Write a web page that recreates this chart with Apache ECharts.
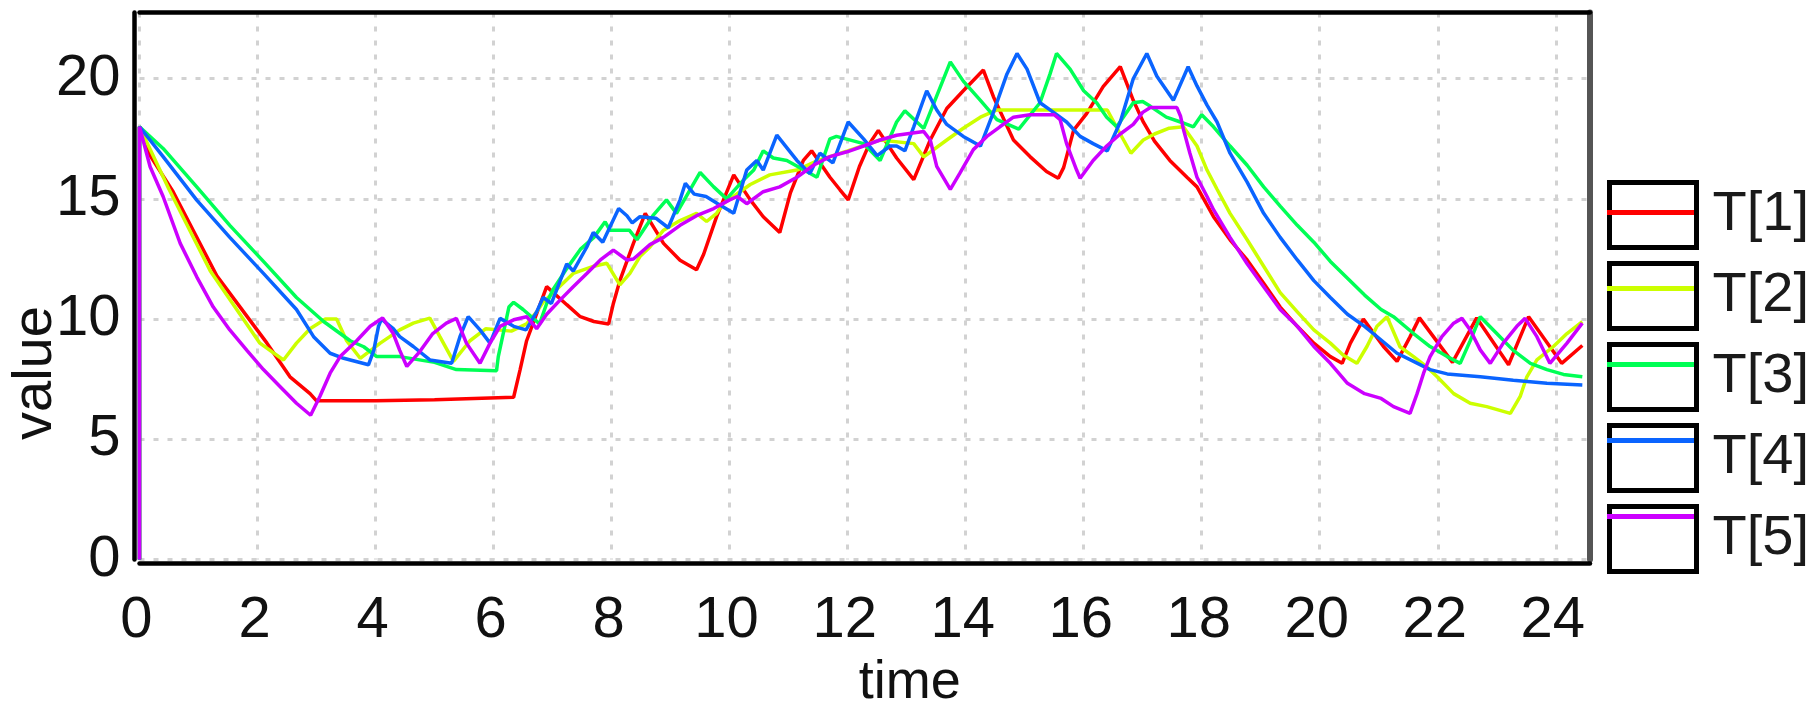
<!DOCTYPE html>
<html>
<head>
<meta charset="utf-8">
<script src="https://cdn.jsdelivr.net/npm/echarts@6/dist/echarts.min.js"></script>
<style>
  html, body { margin: 0; padding: 0; background: #fff; }
  #chart { width: 1814px; height: 706px; }
</style>
</head>
<body>
<div id="chart"></div>
<script>
// series names and colours
var names = ['T[1]', 'T[2]', 'T[3]', 'T[4]', 'T[5]'];
var colors = ['#ff0000', '#ccff00', '#00ff55', '#0a64ff', '#cc00ff'];

// [time, value]
var t1 = [[0,0],[0,18],[0.18,16.8],[0.57,15.3],[1.31,11.8],[2.16,9.0],[2.55,7.6],[2.89,6.9],[3.0,6.6],[4.0,6.6],[5.0,6.65],[6.34,6.75],
  [6.45,7.9],[6.56,9.1],[6.9,11.35],[7.24,10.6],[7.47,10.1],[7.7,9.9],[7.95,9.8],[8.03,10.65],[8.14,11.6],[8.37,13.15],[8.57,14.4],
  [8.88,13.15],[9.16,12.45],[9.44,12.05],[9.56,12.7],[9.78,14.26],[10.07,16.0],[10.35,14.96],[10.57,14.26],[10.85,13.6],[11.03,15.25],
  [11.25,16.6],[11.39,17.0],[11.7,15.9],[11.87,15.38],[12.01,14.96],[12.2,16.35],[12.37,17.3],[12.52,17.85],[12.83,16.7],[13.12,15.8],
  [13.4,17.45],[13.68,18.76],[13.96,19.5],[14.3,20.36],[14.47,19.25],[14.81,17.45],[15.09,16.76],[15.37,16.14],[15.57,15.86],[15.66,16.3],
  [15.83,17.86],[16.05,18.55],[16.33,19.67],[16.62,20.5],[16.84,19.1],[17.01,18.2],[17.2,17.4],[17.46,16.6],[17.75,15.9],[17.92,15.5],
  [18.2,14.26],[18.48,13.3],[18.77,12.46],[19.05,11.49],[19.33,10.5],[19.62,9.7],[19.9,9.0],[20.18,8.44],[20.38,8.16],[20.52,9.0],
  [20.74,10.0],[21.08,8.86],[21.31,8.24],[21.53,9.26],[21.69,10.05],[22.25,8.2],[22.66,10.05],[23.2,8.1],[23.54,10.1],[24.1,8.16],[24.45,8.9]];

var t2 = [[0,0],[0,18],[0.5,15.4],[1.2,12.0],[2.04,9.0],[2.44,8.3],[2.66,9.0],[2.89,9.6],[3.15,10.0],[3.34,10.0],[3.51,9.1],[3.74,8.37],
  [4.08,9.0],[4.41,9.55],[4.64,9.83],[4.92,10.04],[5.09,9.27],[5.32,8.24],[5.6,9.1],[5.87,9.6],[6.3,9.5],[6.56,9.8],[6.73,10.3],[6.84,10.7],
  [7.35,11.9],[7.7,12.2],[7.92,12.32],[8.14,11.42],[8.31,11.9],[8.48,12.6],[8.65,13.0],[8.88,13.7],[9.16,14.1],[9.44,14.4],[9.61,14.06],
  [9.78,14.4],[9.89,14.8],[10.35,15.6],[10.68,16.0],[11.14,16.2],[11.5,16.6],[12.0,17.0],[12.55,17.45],[13.12,17.3],[13.29,16.75],
  [13.68,17.45],[13.96,17.94],[14.25,18.4],[14.53,18.7],[16.4,18.7],[16.62,17.7],[16.8,16.9],[17.01,17.45],[17.2,17.7],[17.45,17.94],
  [17.69,18.0],[17.92,17.2],[18.09,16.2],[18.26,15.4],[18.48,14.4],[18.77,13.3],[19.05,12.2],[19.33,11.1],[19.62,10.3],[19.9,9.55],
  [20.18,9.0],[20.4,8.5],[20.63,8.16],[20.8,8.86],[20.97,9.7],[21.14,10.1],[21.36,8.85],[21.59,8.44],[21.82,8.0],[21.99,7.6],[22.27,6.9],
  [22.55,6.5],[22.83,6.36],[23.23,6.08],[23.4,6.8],[23.51,7.6],[23.68,8.3],[23.96,8.86],[24.19,9.4],[24.45,9.9]];

var t3 = [[0,0],[0,18],[0.4,17.1],[0.97,15.5],[1.53,13.9],[2.1,12.4],[2.66,10.9],[3.12,9.9],[3.57,9.1],[3.8,8.85],[4.02,8.44],[4.41,8.44],
  [5.0,8.2],[5.37,7.9],[6.05,7.85],[6.08,8.44],[6.26,10.5],[6.34,10.7],[6.5,10.4],[6.78,9.8],[6.9,10.65],[7.0,11.2],[7.24,12.1],[7.47,12.9],
  [7.7,13.4],[7.89,14.05],[7.97,13.7],[8.3,13.7],[8.43,13.3],[8.7,14.3],[8.93,14.96],[9.1,14.4],[9.5,16.1],[9.73,15.5],[9.95,15.0],
  [10.24,15.8],[10.41,16.2],[10.57,17.0],[10.74,16.7],[10.97,16.6],[11.48,15.9],[11.7,17.5],[11.81,17.6],[12.27,17.3],[12.55,16.6],
  [12.83,18.2],[12.97,18.67],[13.29,17.93],[13.74,20.7],[13.96,19.9],[14.25,19.1],[14.53,18.3],[14.9,17.9],[15.26,19.0],[15.43,20.2],
  [15.54,21.05],[15.77,20.4],[16.0,19.5],[16.22,19.0],[16.39,18.4],[16.56,18.0],[16.84,19.0],[17.0,19.05],[17.13,18.85],[17.4,18.4],
  [17.64,18.2],[17.86,18.0],[18.0,18.5],[18.2,18.0],[18.48,17.2],[18.77,16.4],[19.05,15.5],[19.33,14.7],[19.62,13.9],[19.9,13.2],
  [20.18,12.4],[20.47,11.7],[20.76,11.0],[21.04,10.4],[21.25,10.1],[21.59,9.4],[21.87,8.86],[22.16,8.44],[22.38,8.16],[22.55,9.1],
  [22.72,10.1],[23.0,9.4],[23.28,8.7],[23.57,8.16],[23.85,7.9],[24.13,7.7],[24.45,7.6]];

var t4 = [[0,0],[0,18],[0.4,16.76],[0.97,14.95],[1.53,13.4],[2.1,11.9],[2.66,10.4],[2.95,9.27],[3.23,8.58],[3.46,8.37],[3.88,8.1],[3.97,8.7],
  [4.05,9.7],[4.1,10.0],[4.3,9.6],[4.41,9.27],[4.64,8.86],[4.92,8.3],[5.29,8.16],[5.43,9.27],[5.57,10.1],[5.77,9.55],[5.94,9.0],[6.11,10.03],
  [6.34,9.7],[6.55,9.55],[6.73,10.3],[6.84,10.9],[6.98,10.65],[7.24,12.3],[7.35,12.0],[7.58,13.0],[7.69,13.6],[7.85,13.2],[8.12,14.6],
  [8.26,14.3],[8.35,14.0],[8.48,14.26],[8.75,14.2],[8.96,13.8],[9.16,14.96],[9.25,15.65],[9.4,15.2],[9.6,15.1],[9.8,14.8],[10.07,14.4],
  [10.29,16.2],[10.46,16.6],[10.57,16.2],[10.8,17.65],[11.14,16.6],[11.36,16.06],[11.53,16.9],[11.75,16.5],[12.01,18.2],[12.27,17.5],
  [12.5,16.8],[12.72,17.2],[12.83,17.2],[12.97,17.0],[13.12,18.0],[13.34,19.5],[13.51,18.7],[13.68,18.1],[13.96,17.6],[14.25,17.2],
  [14.47,18.6],[14.7,20.2],[14.87,21.05],[15.04,20.4],[15.26,19.0],[15.49,18.6],[15.71,18.2],[15.94,17.6],[16.16,17.3],[16.4,17.0],
  [16.62,18.2],[16.84,20.0],[17.07,21.05],[17.24,20.1],[17.52,19.1],[17.77,20.5],[17.92,19.7],[18.09,18.9],[18.26,18.2],[18.48,16.9],
  [18.77,15.7],[19.05,14.4],[19.33,13.4],[19.62,12.46],[19.9,11.6],[20.18,10.9],[20.47,10.2],[20.76,9.7],[21.04,9.13],[21.31,8.58],
  [21.59,8.24],[21.87,7.9],[22.16,7.72],[22.72,7.6],[23.28,7.46],[23.85,7.33],[24.45,7.26]];

var t5 = [[0,0],[0,18],[0.18,16.34],[0.4,15.1],[0.69,13.15],[0.97,11.76],[1.25,10.5],[1.53,9.55],[1.82,8.7],[2.1,7.9],[2.38,7.2],[2.66,6.5],
  [2.9,6.0],[3.06,6.8],[3.23,7.75],[3.4,8.44],[3.68,9.1],[3.91,9.7],[4.12,10.05],[4.3,9.4],[4.41,8.7],[4.53,8.03],[4.75,8.65],[4.97,9.4],
  [5.2,9.83],[5.37,10.03],[5.54,9.0],[5.77,8.16],[5.94,9.0],[6.11,9.7],[6.34,9.97],[6.56,10.1],[6.73,9.6],[6.9,10.2],[7.13,10.8],
  [7.35,11.35],[7.58,11.9],[7.81,12.46],[8.03,12.87],[8.26,12.46],[8.37,12.5],[8.65,13.1],[8.88,13.4],[9.16,13.9],[9.44,14.3],[9.73,14.6],
  [10.0,14.96],[10.13,15.1],[10.29,14.8],[10.57,15.3],[10.85,15.5],[11.14,15.9],[11.42,16.4],[11.7,16.76],[11.99,16.96],[12.27,17.2],
  [12.55,17.45],[12.83,17.65],[13.29,17.8],[13.4,17.45],[13.51,16.35],[13.68,15.65],[13.74,15.4],[13.9,16.06],[14.13,17.05],[14.36,17.6],
  [14.58,18.0],[14.81,18.4],[15.09,18.5],[15.5,18.5],[15.6,18.3],[15.71,17.3],[15.88,16.2],[15.94,15.86],[16.16,16.6],[16.39,17.2],
  [16.62,17.7],[16.84,18.1],[17.0,18.6],[17.13,18.8],[17.58,18.8],[17.64,18.45],[17.69,17.9],[17.8,16.9],[17.92,15.9],[18.09,15.1],
  [18.2,14.55],[18.48,13.4],[18.77,12.3],[19.05,11.35],[19.33,10.4],[19.62,9.7],[19.9,8.86],[20.18,8.16],[20.47,7.33],[20.76,6.9],
  [21.04,6.7],[21.25,6.36],[21.53,6.08],[21.65,6.9],[21.76,7.75],[21.87,8.44],[22.07,9.27],[22.27,9.83],[22.41,10.03],[22.55,9.55],
  [22.72,8.72],[22.89,8.16],[23.11,9.0],[23.34,9.7],[23.48,10.03],[23.68,9.27],[23.9,8.16],[24.19,9.0],[24.45,9.83]];

var seriesData = [t1, t2, t3, t4, t5];

var font = "'Liberation Sans', Arial, sans-serif";
var X_MIN = 0, X_MAX = 24.58, X_STEP = 2;
var Y_MIN = 0, Y_MAX = 22.75, Y_STEP = 5;

function stepLabel(step) {
  return function (v) {
    return Math.abs(v / step - Math.round(v / step)) < 1e-6 ? String(Math.round(v)) : '';
  };
}

var chart = echarts.init(document.getElementById('chart'));

var series = seriesData.map(function (d, i) {
  return {
    name: names[i],
    type: 'line',
    data: d,
    symbol: 'none',
    showSymbol: false,
    lineStyle: { color: colors[i], width: 3.5 },
    itemStyle: { color: colors[i] },
    z: 2 + i
  };
});

var frame = function (color, width) {
  return { show: true, onZero: false, lineStyle: { color: color, width: width } };
};

var option = {
  animation: false,
  backgroundColor: '#fff',
  grid: { left: 139.5, right: 224, top: 12.6, bottom: 146.5, outerBoundsMode: 'none', containLabel: false },
  legend: [
    {
      // black framed boxes
      orient: 'vertical', left: 1607, top: 180, padding: 0,
      itemWidth: 87, itemHeight: 65, itemGap: 11,
      icon: 'rect',
      selectedMode: false,
      itemStyle: { color: '#fff', borderColor: '#000', borderWidth: 5 },
      textStyle: { fontFamily: font, fontSize: 56, color: '#1a1a1a', lineHeight: 65, padding: [0, 0, 0, 11] },
      data: names, z: 3
    },
    {
      // the coloured line inside each box
      orient: 'vertical', left: 1607, top: 180, padding: 0,
      itemWidth: 87, itemHeight: 65, itemGap: 11,
      icon: 'path://M0,0L87,0L87,5L0,5Z',
      selectedMode: false,
      itemStyle: { borderWidth: 0 },
      textStyle: { fontFamily: font, fontSize: 56, color: 'rgba(0,0,0,0)', lineHeight: 65, padding: [0, 0, 0, 11] },
      data: names, z: 4
    }
  ],
  xAxis: [
    {
      type: 'value', min: X_MIN, max: X_MAX, interval: X_STEP,
      position: 'bottom', offset: 4,
      name: 'time', nameLocation: 'middle', nameGap: 93, nameMoveOverlap: false,
      nameTextStyle: { fontFamily: font, fontSize: 54, color: '#111', lineHeight: 54, padding: [0, 0, 0, 90] },
      axisLine: frame('#000', 4.5),
      axisTick: { show: false },
      axisLabel: { fontFamily: font, fontSize: 58, color: '#111', lineHeight: 58, margin: 28, padding: [0, 6, 0, 0], formatter: stepLabel(X_STEP) },
      splitLine: { show: true, lineStyle: { color: '#d2d2d2', width: 3, type: [5, 9] } }
    },
    {
      type: 'value', min: X_MIN, max: X_MAX, position: 'top',
      axisLine: frame('#000', 4.5),
      axisTick: { show: false }, axisLabel: { show: false }, splitLine: { show: false }
    }
  ],
  yAxis: [
    {
      type: 'value', min: Y_MIN, max: Y_MAX, interval: Y_STEP,
      position: 'left', offset: 5,
      name: 'value', nameLocation: 'middle', nameGap: 71, nameRotate: 90, nameMoveOverlap: false,
      nameTextStyle: { fontFamily: font, fontSize: 56, color: '#111', lineHeight: 56, padding: [0, 174, 0, 0] },
      axisLine: frame('#000', 4.5),
      axisTick: { show: false },
      axisLabel: { fontFamily: font, fontSize: 58, color: '#111', lineHeight: 58, margin: 14, padding: [0, 0, 8, 0], formatter: stepLabel(Y_STEP) },
      splitLine: { show: true, lineStyle: { color: '#d2d2d2', width: 3, type: [5, 9] } }
    },
    {
      type: 'value', min: Y_MIN, max: Y_MAX, position: 'right',
      axisLine: frame('#555', 6),
      axisTick: { show: false }, axisLabel: { show: false }, splitLine: { show: false }
    }
  ],
  series: series
};

chart.setOption(option);
</script>
</body>
</html>
